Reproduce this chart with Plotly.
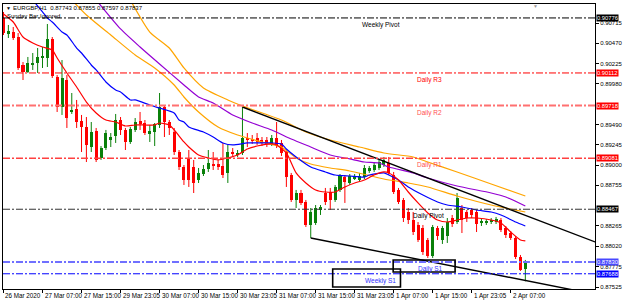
import plotly.graph_objects as go

# ---------------- data ----------------
time_labels = ["26 Mar 2020", "27 Mar 07:00", "27 Mar 15:00", "29 Mar 23:05", "30 Mar 07:00",
               "30 Mar 15:00", "30 Mar 23:05", "31 Mar 07:00", "31 Mar 15:00", "31 Mar 23:05",
               "1 Apr 07:00", "1 Apr 15:00", "1 Apr 23:05", "2 Apr 07:00"]
label_bars = [0, 8, 16, 24, 32, 40, 48, 56, 64, 72, 80, 88, 96, 104]

opens = [0.90775, 0.90594, 0.90606, 0.90546, 0.90208, 0.90124, 0.90220, 0.90232, 0.90293, 0.90293,
         0.90522, 0.90063, 0.89701, 0.90027, 0.89641, 0.89677, 0.89532, 0.89460, 0.89218, 0.89411,
         0.89086, 0.89206, 0.89303, 0.89351, 0.89544, 0.89424, 0.89279, 0.89424, 0.89532, 0.89508,
         0.89387, 0.89399, 0.89484, 0.89701, 0.89520, 0.89399, 0.89158, 0.88977, 0.89086, 0.88977,
         0.88820, 0.88892, 0.88953, 0.89013, 0.89013, 0.88989, 0.88905, 0.89158, 0.89122, 0.89146,
         0.89327, 0.89315, 0.89327, 0.89303, 0.89303, 0.89255, 0.89327, 0.89267, 0.89158, 0.88880,
         0.88579, 0.88663, 0.88555, 0.88277, 0.88301, 0.88458, 0.88663, 0.88675, 0.88579, 0.88700,
         0.88856, 0.88784, 0.88844, 0.88820, 0.88856, 0.88929, 0.88941, 0.88965, 0.89001, 0.89025,
         0.88880, 0.88700, 0.88579, 0.88434, 0.88337, 0.88277, 0.88241, 0.88096, 0.87903, 0.88241,
         0.88096, 0.88144, 0.88361, 0.88313, 0.88482, 0.88434, 0.88458, 0.88434, 0.88301, 0.88301,
         0.88313, 0.88313, 0.88337, 0.88241, 0.88180, 0.88120, 0.87891, 0.87743]
highs = [0.90848, 0.90691, 0.90667, 0.90594, 0.90244, 0.90305, 0.90353, 0.90413, 0.90425, 0.90703,
         0.90546, 0.90087, 0.90268, 0.90087, 0.89870, 0.89786, 0.89605, 0.89580, 0.89520, 0.89448,
         0.89230, 0.89424, 0.89387, 0.89617, 0.89580, 0.89448, 0.89460, 0.89568, 0.89641, 0.89544,
         0.89484, 0.89508, 0.89870, 0.89725, 0.89544, 0.89448, 0.89182, 0.89001, 0.89182, 0.89062,
         0.88965, 0.89001, 0.89182, 0.89158, 0.89062, 0.89267, 0.89243, 0.89206, 0.89182, 0.89701,
         0.89387, 0.89363, 0.89387, 0.89339, 0.89339, 0.89363, 0.89520, 0.89303, 0.89182, 0.88905,
         0.88700, 0.88700, 0.88579, 0.88482, 0.88518, 0.88518, 0.88724, 0.88724, 0.88760, 0.88892,
         0.88880, 0.88892, 0.88892, 0.88905, 0.89001, 0.88989, 0.89037, 0.89062, 0.89098, 0.89098,
         0.88917, 0.88724, 0.88603, 0.88482, 0.88434, 0.88313, 0.88277, 0.88120, 0.88277, 0.88265,
         0.88265, 0.88361, 0.88398, 0.88663, 0.88518, 0.88458, 0.88482, 0.88458, 0.88361, 0.88349,
         0.88361, 0.88374, 0.88361, 0.88265, 0.88204, 0.88144, 0.87915, 0.87855]
lows = [0.90570, 0.90534, 0.90510, 0.90148, 0.90027, 0.90112, 0.90148, 0.90112, 0.90172, 0.90184,
        0.90051, 0.89641, 0.89605, 0.89448, 0.89617, 0.89448, 0.89158, 0.89037, 0.89158, 0.89037,
        0.89062, 0.89182, 0.89218, 0.89267, 0.89363, 0.89182, 0.89255, 0.89399, 0.89424, 0.89363,
        0.89279, 0.89230, 0.89448, 0.89339, 0.89363, 0.89122, 0.88941, 0.88760, 0.88736, 0.88663,
        0.88784, 0.88868, 0.88917, 0.88941, 0.88941, 0.88844, 0.88784, 0.89110, 0.89098, 0.89122,
        0.89218, 0.89255, 0.89243, 0.89230, 0.89218, 0.89230, 0.89206, 0.89110, 0.88736, 0.88555,
        0.88482, 0.88518, 0.88253, 0.88120, 0.88277, 0.88398, 0.88518, 0.88458, 0.88555, 0.88675,
        0.88543, 0.88760, 0.88820, 0.88796, 0.88832, 0.88905, 0.88917, 0.88941, 0.88977, 0.88880,
        0.88651, 0.88530, 0.88313, 0.88289, 0.88156, 0.88072, 0.87915, 0.87879, 0.87879, 0.88096,
        0.88048, 0.88060, 0.88253, 0.88289, 0.88180, 0.88313, 0.88361, 0.88192, 0.88265, 0.88277,
        0.88289, 0.88289, 0.88192, 0.88120, 0.88096, 0.87866, 0.87722, 0.87597]
closes = [0.90594, 0.90618, 0.90534, 0.90172, 0.90124, 0.90232, 0.90232, 0.90305, 0.90305, 0.90522,
          0.90075, 0.89701, 0.90051, 0.89568, 0.89665, 0.89520, 0.89460, 0.89243, 0.89399, 0.89062,
          0.89206, 0.89387, 0.89339, 0.89544, 0.89424, 0.89279, 0.89436, 0.89520, 0.89496, 0.89387,
          0.89411, 0.89496, 0.89701, 0.89520, 0.89448, 0.89158, 0.88977, 0.88820, 0.88820, 0.88784,
          0.88905, 0.88953, 0.89025, 0.88989, 0.88977, 0.88880, 0.89158, 0.89134, 0.89146, 0.89327,
          0.89303, 0.89291, 0.89279, 0.89267, 0.89255, 0.89327, 0.89243, 0.89146, 0.88856, 0.88579,
          0.88663, 0.88543, 0.88277, 0.88434, 0.88482, 0.88494, 0.88555, 0.88579, 0.88736, 0.88868,
          0.88796, 0.88868, 0.88868, 0.88868, 0.88965, 0.88965, 0.89001, 0.89037, 0.89062, 0.88905,
          0.88675, 0.88555, 0.88361, 0.88337, 0.88192, 0.88096, 0.87951, 0.87903, 0.88253, 0.88144,
          0.88241, 0.88313, 0.88289, 0.88603, 0.88337, 0.88361, 0.88398, 0.88289, 0.88325, 0.88325,
          0.88337, 0.88349, 0.88217, 0.88156, 0.88120, 0.87891, 0.87734, 0.87837]

# moving averages (bar index, price)
ma_red_idx = [0, 2, 4, 6, 8, 10, 11, 13, 15, 17, 19, 21, 23, 25, 27, 29, 31, 32, 34, 35, 37, 38, 40, 42, 44,
              46, 48, 50, 52, 55, 56, 58, 60, 62, 64, 66, 68, 70, 72, 74, 76, 78, 79, 81, 83, 85, 87, 89,
              91, 93, 95, 97, 100, 102, 104, 106, 107]
ma_red_val = [0.90824, 0.90727, 0.90546, 0.90474, 0.90425, 0.90389, 0.90293, 0.90112, 0.89942, 0.89761,
              0.89629, 0.89544, 0.89520, 0.89472, 0.89484, 0.89484, 0.89484, 0.89508, 0.89484, 0.89424,
              0.89279, 0.89218, 0.89122, 0.89086, 0.89062, 0.89086, 0.89122, 0.89194, 0.89230, 0.89255,
              0.89243, 0.89146, 0.88905, 0.88784, 0.88700, 0.88675, 0.88675, 0.88736, 0.88784, 0.88820,
              0.88880, 0.88917, 0.88905, 0.88820, 0.88675, 0.88543, 0.88422, 0.88337, 0.88313, 0.88337,
              0.88361, 0.88361, 0.88337, 0.88301, 0.88192, 0.88096, 0.88084]
ma_blue_idx = [6, 8, 9, 10, 12, 13, 15, 16, 18, 19, 21, 23, 24, 26, 27, 30, 32, 35, 36, 37, 38, 41, 43, 45,
               47, 50, 52, 55, 57, 58, 60, 63, 66, 68, 71, 74, 75, 78, 79, 81, 83, 86, 89, 91, 94, 97,
               100, 102, 105, 107]
ma_blue_val = [0.90993, 0.90848, 0.90775, 0.90727, 0.90606, 0.90570, 0.90413, 0.90353, 0.90208, 0.90148,
               0.90003, 0.89906, 0.89882, 0.89786, 0.89786, 0.89725, 0.89689, 0.89629, 0.89544, 0.89520,
               0.89460, 0.89399, 0.89339, 0.89267, 0.89243, 0.89267, 0.89267, 0.89267, 0.89255, 0.89194,
               0.89098, 0.88977, 0.88917, 0.88880, 0.88868, 0.88856, 0.88880, 0.88905, 0.88880, 0.88820,
               0.88736, 0.88639, 0.88555, 0.88518, 0.88494, 0.88458, 0.88434, 0.88398, 0.88313, 0.88265]
ma_purple_idx = [19, 24, 28, 32, 37, 40, 43, 47, 51, 55, 59, 63, 67, 71, 74, 77, 79, 84, 87, 93, 100, 103, 107]
ma_purple_val = [0.90993, 0.90643, 0.90425, 0.90220, 0.89967, 0.89822, 0.89749, 0.89605, 0.89508, 0.89424,
                 0.89315, 0.89218, 0.89122, 0.89074, 0.89037, 0.89025, 0.88977, 0.88905, 0.88844, 0.88748,
                 0.88663, 0.88615, 0.88506]
ma_orange1_idx = [14, 17, 22, 27, 31, 35, 37, 40, 44, 48, 53, 57, 60, 63, 67, 71, 78, 83, 87, 93, 100, 107]
ma_orange1_val = [0.90993, 0.90812, 0.90570, 0.90329, 0.90172, 0.89967, 0.89822, 0.89641, 0.89460, 0.89363,
                  0.89279, 0.89218, 0.89086, 0.89013, 0.88965, 0.88929, 0.88832, 0.88784, 0.88736, 0.88627,
                  0.88518, 0.88434]
ma_orange2_idx = [26, 30, 34, 37, 41, 46, 49, 57, 62, 67, 73, 78, 84, 87, 93, 100, 107]
ma_orange2_val = [0.90993, 0.90606, 0.90413, 0.90172, 0.89930, 0.89786, 0.89713, 0.89544, 0.89399, 0.89303,
                  0.89218, 0.89146, 0.89098, 0.89037, 0.88917, 0.88772, 0.88627]

# trend lines (bar index, price)
trend_upper_idx = [49.0, 121.3]
trend_upper_val = [0.89701, 0.88072]
trend_lower_idx = [63.0, 119.7]
trend_lower_val = [0.88120, 0.87459]

# pivot levels
pivot_names = ["Weekly Pivot", "Daily R3", "Daily R2", "Daily R1", "Daily Pivot", "Daily S1", "Weekly S1"]
pivot_prices = [0.90776, 0.90112, 0.89718, 0.89081, 0.88467, 0.87830, 0.87688]
pivot_text = ["0.90776", "0.90112", "0.89718", "0.89081", "0.88467", "0.87830", "0.87688"]

ytick_vals = [0.90715, 0.90470, 0.90225, 0.89980, 0.89490, 0.89245, 0.89000, 0.88755, 0.88265,
              0.88020, 0.87775, 0.87525]
ytick_text = ["0.90715", "0.90470", "0.90225", "0.89980", "0.89490", "0.89245", "0.89000", "0.88755",
              "0.88265", "0.88020", "0.87775", "0.87525"]

title_text = "EURGBP,H1  0.87743 0.87855 0.87597 0.87837"

# ---------------- styling ----------------
W, H = 625, 306
ML, MR, MT, MB = 2, 27, 4, 17
PW, PH = W - ML - MR, H - MT - MB
YMIN, YMAX = 0.875043, 0.909443
XMIN = -0.1
XMAX = XMIN + PW / 4.91
FONT = "Liberation Sans, Arial, sans-serif"
GREEN = "#0a800a"
RED = "#ff0000"


def pxx(x):
    return (x - ML) / PW


def pxy(y):
    return 1 - (y - MT) / PH


fig = go.Figure()

idx = list(range(len(opens)))
for up, col in ((True, GREEN), (False, RED)):
    sel = [i for i in idx if (closes[i] >= opens[i]) == up]
    wx, wy = [], []
    for i in sel:
        wx += [i, i, None]
        wy += [lows[i], highs[i], None]
    fig.add_trace(go.Scatter(x=wx, y=wy, mode="lines", line=dict(color=col, width=1),
                             hoverinfo="skip", showlegend=False))
    fig.add_trace(go.Bar(x=sel, base=[min(opens[i], closes[i]) for i in sel],
                         y=[abs(closes[i] - opens[i]) for i in sel], width=0.62,
                         marker=dict(color=col, line=dict(width=0)), showlegend=False))

for xi, yv, col in ((ma_orange2_idx, ma_orange2_val, "#ffa500"),
                    (ma_orange1_idx, ma_orange1_val, "#ffa500"),
                    (ma_purple_idx, ma_purple_val, "#9400d3"),
                    (ma_blue_idx, ma_blue_val, "#0000ff"),
                    (ma_red_idx, ma_red_val, "#ff0000")):
    fig.add_trace(go.Scatter(x=xi, y=yv, mode="lines", line=dict(color=col, width=1.2, shape="spline",
                                                                    smoothing=0.6),
                             hoverinfo="skip", showlegend=False))

for xi, yv in ((trend_upper_idx, trend_upper_val), (trend_lower_idx, trend_lower_val)):
    fig.add_trace(go.Scatter(x=xi, y=yv, mode="lines", line=dict(color="black", width=1.4),
                             hoverinfo="skip", showlegend=False))

line_styles = {
    "Weekly Pivot": ("#000000", 1),
    "Daily R3": ("#ff0000", 1),
    "Daily R2": ("#ff7070", 2),
    "Daily R1": ("#ff4040", 1.5),
    "Daily Pivot": ("#333333", 1),
    "Daily S1": ("#7070ff", 2),
    "Weekly S1": ("#0000ff", 1),
}
label_colors = {
    "Weekly Pivot": "#000000", "Daily R3": "#ff0000", "Daily R2": "#ff5050", "Daily R1": "#ff5050",
    "Daily Pivot": "#000000", "Daily S1": "#3030ff", "Weekly S1": "#3030ff",
}
box_colors = {
    "Weekly Pivot": "#000000", "Daily R3": "#ff0000", "Daily R2": "#ff0000", "Daily R1": "#ff0000",
    "Daily Pivot": "#000000", "Daily S1": "#4848ff", "Weekly S1": "#0000ff",
}
label_x = {"Weekly Pivot": 73.2, "Daily R3": 84.4, "Daily R2": 84.4, "Daily R1": 84.4,
           "Daily Pivot": 83.6, "Daily S1": 84.6, "Weekly S1": 73.8}

shapes = []
annotations = []
for name, price, txt in zip(pivot_names, pivot_prices, pivot_text):
    col, w = line_styles[name]
    shapes.append(dict(type="line", xref="paper", x0=0, x1=1, yref="y", y0=price, y1=price,
                       line=dict(color=col, width=w, dash="7px,2px,2px,2px"), layer="above"))
    annotations.append(dict(x=label_x[name], y=price, xref="x", yref="y", text=name, showarrow=False,
                            xanchor="left", yanchor="top", yshift=-1,
                            font=dict(family=FONT, size=6.5, color=label_colors[name])))
    annotations.append(dict(x=1, y=price, xref="paper", yref="y", text=txt, showarrow=False,
                            xanchor="left", yanchor="middle", xshift=1, bgcolor=box_colors[name],
                            borderpad=0, font=dict(family=FONT, size=5.8, color="white")))

# boxes drawn around the S1 labels
box_x = [(79.9, 92.6), (67.5, 81.4)]
box_y = [(0.87710, 0.87854), (0.87528, 0.87746)]
for (x0, x1), (y0, y1) in zip(box_x, box_y):
    shapes.append(dict(type="rect", xref="x", yref="y", x0=x0, x1=x1, y0=y0, y1=y1,
                       line=dict(color="black", width=1.6), layer="above"))

for b, t in zip(label_bars, time_labels):
    annotations.append(dict(x=b, y=0, xref="x", yref="paper", text=t, showarrow=False,
                            xanchor="left", yanchor="top", yshift=-1,
                            font=dict(family=FONT, size=6.3, color="black")))

annotations.append(dict(x=pxx(3), y=pxy(7.5), xref="paper", yref="paper", text="▼", showarrow=False,
                        xanchor="left", yanchor="middle", font=dict(family=FONT, size=5, color="black")))
annotations.append(dict(x=pxx(10), y=pxy(7.5), xref="paper", yref="paper", text=title_text,
                        showarrow=False, xanchor="left", yanchor="middle",
                        font=dict(family=FONT, size=6, color="black")))
annotations.append(dict(x=pxx(4), y=pxy(16), xref="paper", yref="paper", text="Sunday Bar Ignored",
                        showarrow=False, xanchor="left", yanchor="middle",
                        font=dict(family=FONT, size=6, color="black")))
annotations.append(dict(x=pxx(538), y=pxy(5.5), xref="paper", yref="paper", text="▼", showarrow=False,
                        xanchor="center", yanchor="middle", font=dict(family=FONT, size=5, color="#999999")))

fig.update_layout(
    width=W, height=H, margin=dict(l=ML, r=MR, t=MT, b=MB, pad=0),
    paper_bgcolor="white", plot_bgcolor="white", barmode="overlay", bargap=0,
    showlegend=False, shapes=shapes, annotations=annotations,
    xaxis=dict(range=[XMIN, XMAX], showgrid=False, zeroline=False, showline=True, linecolor="black",
               linewidth=1, mirror=True, tickvals=label_bars, ticks="outside", ticklen=3,
               tickcolor="black", showticklabels=False, fixedrange=True),
    yaxis=dict(range=[YMIN, YMAX], side="right", showgrid=False, zeroline=False, showline=True,
               linecolor="black", linewidth=1, mirror=True, tickvals=ytick_vals, ticktext=ytick_text,
               ticks="outside", ticklen=3, tickcolor="black",
               tickfont=dict(family=FONT, size=6, color="black"), fixedrange=True),
)

fig.write_html("out.html")
